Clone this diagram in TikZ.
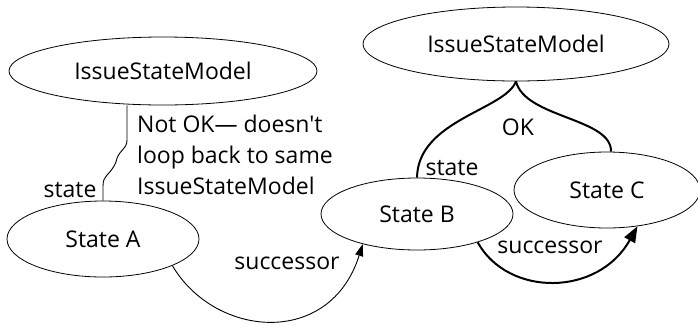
\documentclass[tikz,border=0pt]{standalone}
\usepackage{fontspec}
\setmainfont{Open Sans}[Ligatures=TeXOff]
\usetikzlibrary{arrows.meta,shapes.geometric}

\begin{document}
\begin{tikzpicture}[
  x=1pt, y=-1pt,
  oval/.style={ellipse, draw=black, line width=0.8pt, inner sep=0pt,
              font=\fontsize{23}{27}\selectfont},
  lbl/.style={inner sep=0pt, font=\fontsize{23}{27}\selectfont},
  arr/.style={-{Triangle[length=12pt,width=8pt]}, line width=0.9pt},
  thk/.style={line width=2pt},
  thkarr/.style={-{Triangle[length=16pt,width=12pt]}, line width=2pt}
]
\useasboundingbox (0,0) rectangle (698,325);
\node[oval, minimum width=308pt, minimum height=68pt] (ism1) at (163,71) {IssueStateModel};
\node[oval, minimum width=306pt, minimum height=74pt] (ism2) at (516,44) {IssueStateModel};
\node[oval, minimum width=192pt, minimum height=76pt] (stA) at (103,239) {State A};
\node[oval, minimum width=192pt, minimum height=72pt] (stB) at (417,214) {State B};
\node[oval, minimum width=186pt, minimum height=76pt] (stC) at (607,190) {State C};
\coordinate (nok) at ([xshift=-36pt]ism1.south);
\node[lbl, anchor=north west, align=left, font=\fontsize{23}{31}\selectfont] (note) at (137,115)
  {Not OK— doesn't\\loop back to same\\IssueStateModel};
\node[lbl] (sA) at (70,190) {state};
\node[lbl] (sB) at (452,168) {state};
\node[lbl] (ok) at (518,127) {OK};
\node[lbl] (suc1) at (287,263) {successor};
\node[lbl] (suc2) at (550,247) {successor};
% not ok link
\draw[line width=0.9pt] (nok) -- (127,140) .. controls (127,150) and (118,150) .. (116,162)
  .. controls (110,176) and (103,174) .. (103,186) -- (stA.north);
% ok links
\draw[thk] (ism2.south) .. controls (505,110) and (418,120) .. (stB.north);
\draw[thk] (ism2.south) .. controls (525,118) and (612,118) .. ([xshift=4pt]stC.north);
% successors
\draw[arr] (stA.-21) .. controls (215,338) and (330,348) .. (stB.-151);
\draw[thkarr] (stB.-25) .. controls (508,297) and (598,297) .. (stC.-50);
\end{tikzpicture}
\end{document}
